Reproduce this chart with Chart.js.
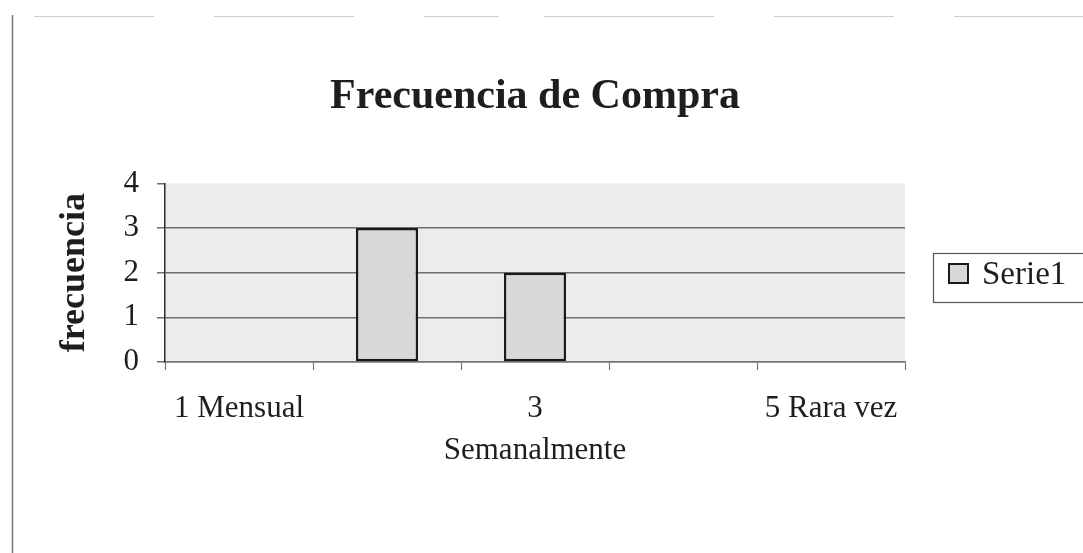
<!DOCTYPE html>
<html>
<head>
<meta charset="utf-8">
<title>Frecuencia de Compra</title>
<script src="https://cdn.jsdelivr.net/npm/chart.js@4.4.1/dist/chart.umd.min.js"></script>
<style>
  html, body { margin: 0; padding: 0; background: #fff; }
  #wrap { width: 1083px; height: 553px; position: relative; }
</style>
</head>
<body>
<div id="wrap"><canvas id="freqChart"></canvas></div>
<script>
// categories of the survey answer (2 and 4 have no printed label)
const categories = ["1 Mensual", "2", "3 Semanalmente", "4", "5 Rara vez"];
// printed tick labels (Excel skips every other one and wraps the middle one)
const tickLabels = ["1 Mensual", "", ["3", "Semanalmente"], "", "5 Rara vez"];
const frequency = [0, 3, 2, 0, 0];
const yTicks = [0, 1, 2, 3, 4];

const serif = "'Liberation Serif', 'Times New Roman', serif";
const ink = "#1e1e1e";

// page frame, plot area fill and the boxed legend
const frameAndLegend = {
    id: "frameAndLegend",
    beforeDraw(chart) {
        const { ctx, chartArea } = chart;
        ctx.save();
        ctx.fillStyle = "#ffffff";
        ctx.fillRect(0, 0, chart.width, chart.height);

        // old scanned frame: left edge and faint top edge
        ctx.strokeStyle = "#7a7a7a";
        ctx.lineWidth = 1.5;
        ctx.beginPath();
        ctx.moveTo(12.5, 15);
        ctx.lineTo(12.5, chart.height);
        ctx.stroke();
        ctx.strokeStyle = "#cfcfcf";
        ctx.lineWidth = 1;
        ctx.setLineDash([120, 60, 140, 70, 75, 45, 170, 60]);
        ctx.beginPath();
        ctx.moveTo(34, 16.5);
        ctx.lineTo(chart.width, 16.5);
        ctx.stroke();
        ctx.setLineDash([]);

        // grey plot area
        ctx.fillStyle = "#ececec";
        ctx.fillRect(chartArea.left, chartArea.top,
            chartArea.right - chartArea.left, chartArea.bottom - chartArea.top);
        ctx.restore();
    },
    afterDraw(chart) {
        const { ctx } = chart;
        const ds = chart.data.datasets[0];
        ctx.save();
        ctx.fillStyle = "#ffffff";
        ctx.fillRect(933, 253, 160, 49);
        ctx.strokeStyle = "#555";
        ctx.lineWidth = 1.2;
        ctx.strokeRect(933.5, 253.5, 160, 49);

        ctx.fillStyle = ds.backgroundColor;
        ctx.fillRect(948, 263, 21, 21);
        ctx.strokeStyle = ds.borderColor;
        ctx.lineWidth = 2;
        ctx.strokeRect(949, 264, 19, 19);

        ctx.fillStyle = ink;
        ctx.font = "33px " + serif;
        ctx.textBaseline = "middle";
        ctx.fillText(ds.label, 982, 275);
        ctx.restore();
    }
};

const ctx = document.getElementById("freqChart").getContext("2d");

new Chart(ctx, {
    type: "bar",
    data: {
        labels: categories,
        datasets: [{
            label: "Serie1",
            data: frequency,
            backgroundColor: "#d8d8d8",
            borderColor: "#1a1a1a",
            borderWidth: 2.5,
            borderSkipped: false,
            categoryPercentage: 1,
            barPercentage: 0.42
        }]
    },
    options: {
        responsive: true,
        maintainAspectRatio: false,
        animation: false,
        layout: {
            padding: { top: 20, right: 178, bottom: 0, left: 0 }
        },
        plugins: {
            legend: { display: false },
            tooltip: { enabled: false },
            title: {
                display: true,
                fullSize: false,
                text: "Frecuencia de Compra",
                color: ink,
                font: { family: serif, size: 42, weight: "bold", lineHeight: 1.2 },
                padding: { top: 52, bottom: 61 }
            }
        },
        scales: {
            x: {
                offset: true,
                grid: {
                    offset: true,
                    drawOnChartArea: false,
                    drawTicks: true,
                    tickLength: 8,
                    tickColor: "#777",
                    tickWidth: 1.2
                },
                border: { color: "#777", width: 1.5 },
                ticks: {
                    autoSkip: false,
                    maxRotation: 0,
                    padding: 17,
                    color: ink,
                    font: { family: serif, size: 31, lineHeight: 1.38 },
                    callback: (value, index) => tickLabels[index]
                },
                afterFit: scale => { scale.height = 191; }
            },
            y: {
                min: 0,
                max: 4,
                afterBuildTicks: scale => {
                    scale.ticks = yTicks.map(v => ({ value: v }));
                },
                grid: {
                    color: c => (c.tick && c.tick.value === 4) ? "rgba(0,0,0,0)" : "#6e6e6e",
                    lineWidth: 1.5,
                    tickLength: 8,
                    tickColor: "#6e6e6e"
                },
                border: { color: "#2a2a2a", width: 1.5 },
                ticks: {
                    padding: 18,
                    color: ink,
                    font: { family: serif, size: 31 }
                },
                title: {
                    display: true,
                    text: "frecuencia",
                    color: ink,
                    font: { family: serif, size: 36, weight: "bold", lineHeight: 1.2 },
                    padding: { top: 53, bottom: 0 }
                },
                afterFit: scale => { scale.width = 165; }
            }
        }
    },
    plugins: [frameAndLegend]
});
</script>
</body>
</html>
